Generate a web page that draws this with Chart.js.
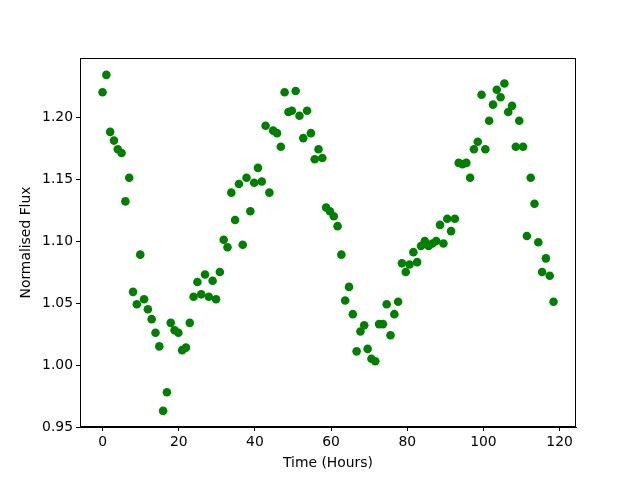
<!DOCTYPE html>
<html>
<head>
<meta charset="utf-8">
<script src="https://cdn.jsdelivr.net/npm/chart.js@4"></script>
<style>
html,body{margin:0;padding:0;background:#fff;}
#wrap{width:640px;height:480px;}
</style>
</head>
<body>
<div id="wrap"><canvas id="c" width="640" height="480"></canvas></div>
<script>
const timeHours = [
  0,1,2,3,4,5,6,7,8,9,
  9.9,10.9,11.9,12.9,13.9,14.9,15.9,16.9,17.9,18.9,
  19.9,20.9,21.9,22.9,23.9,24.9,25.9,26.9,27.9,28.9,
  29.8,30.8,31.8,32.8,33.8,34.8,35.8,36.8,37.8,38.8,
  39.8,40.8,41.8,42.8,43.8,44.8,45.8,46.8,47.8,48.8,
  49.7,50.7,51.7,52.7,53.7,54.7,55.7,56.7,57.7,58.7,
  59.7,60.7,61.7,62.7,63.7,64.7,65.7,66.7,67.7,68.7,
  69.6,70.6,71.6,72.6,73.6,74.6,75.6,76.6,77.6,78.6,
  79.6,80.6,81.6,82.6,83.6,84.6,85.6,86.6,87.6,88.6,
  89.5,90.5,91.5,92.5,93.5,94.5,95.5,96.5,97.5,98.5,
  99.5,100.5,101.5,102.5,103.5,104.5,105.5,106.5,107.5,108.5,
  109.4,110.4,111.4,112.4,113.4,114.4,115.4,116.4,117.4,118.4
];
const normalisedFlux = [
  1.220,1.234,1.188,1.181,1.174,1.171,1.132,1.151,1.059,1.049,
  1.089,1.053,1.045,1.037,1.026,1.015,0.963,0.978,1.034,1.028,
  1.026,1.012,1.014,1.034,1.055,1.067,1.057,1.073,1.055,1.068,
  1.053,1.075,1.101,1.095,1.139,1.117,1.146,1.097,1.151,1.124,
  1.147,1.159,1.148,1.193,1.139,1.189,1.187,1.176,1.220,1.204,
  1.205,1.221,1.201,1.183,1.205,1.187,1.166,1.174,1.167,1.127,
  1.124,1.120,1.112,1.089,1.052,1.063,1.041,1.011,1.027,1.032,
  1.013,1.005,1.003,1.033,1.033,1.049,1.024,1.041,1.051,1.082,
  1.075,1.081,1.091,1.083,1.096,1.100,1.096,1.098,1.100,1.113,
  1.098,1.118,1.108,1.118,1.163,1.162,1.163,1.151,1.174,1.180,
  1.218,1.174,1.197,1.210,1.222,1.216,1.227,1.204,1.209,1.176,
  1.197,1.176,1.104,1.151,1.130,1.099,1.075,1.086,1.072,1.051
];
const xTickValues = [0,20,40,60,80,100,120];
const yTickValues = [0.95,1.00,1.05,1.10,1.15,1.20];

const points = timeHours.map((t,i)=>({x:t,y:normalisedFlux[i]}));
const FONT = {family:'"DejaVu Sans"', size:13.9};

const framePlugin = {
  id:'frame',
  afterDraw(chart){
    const a = chart.chartArea, ctx = chart.ctx;
    ctx.save();
    ctx.strokeStyle = '#000';
    ctx.lineWidth = 1;
    ctx.strokeRect(Math.round(a.left)+0.5, Math.round(a.top)+0.5, Math.round(a.right-a.left)-1, Math.round(a.bottom-a.top)-1);
    ctx.restore();
  }
};

new Chart(document.getElementById('c'), {
  type:'scatter',
  data:{datasets:[{
    data:points,
    backgroundColor:'#008000',
    borderColor:'#008000',
    borderWidth:0,
    pointRadius:4.3,
    pointHoverRadius:4.3
  }]},
  options:{
    responsive:false,
    animation:false,
    events:[],
    layout:{padding:{left:0,right:64,top:58,bottom:0}},
    plugins:{legend:{display:false},tooltip:{enabled:false}},
    scales:{
      x:{
        type:'linear',
        min:-5.92, max:124.3,
        afterBuildTicks:(s)=>{ s.ticks = xTickValues.map(v=>({value:v})); },
        afterFit:(s)=>{ s.height = 53; },
        grid:{drawOnChartArea:false, drawTicks:true, tickLength:4, color:'#000', lineWidth:1},
        border:{display:true,color:'#000',width:1},
        ticks:{color:'#000', font:FONT, padding:3, maxRotation:0, callback:(v)=>String(v)},
        title:{display:true,text:'Time (Hours)',color:'#000',font:FONT,padding:{top:2,bottom:8}}
      },
      y:{
        type:'linear',
        min:0.95, max:1.2476,
        afterBuildTicks:(s)=>{ s.ticks = yTickValues.map(v=>({value:v})); },
        afterFit:(s)=>{ s.width = 80; },
        grid:{drawOnChartArea:false, drawTicks:true, tickLength:4, color:'#000', lineWidth:1},
        border:{display:true,color:'#000',width:1},
        ticks:{color:'#000', font:FONT, padding:3, callback:(v)=>Number(v).toFixed(2)},
        title:{display:true,text:'Normalised Flux',color:'#000',font:FONT,padding:{top:18,bottom:4}}
      }
    }
  },
  plugins:[framePlugin]
});
</script>
</body>
</html>
